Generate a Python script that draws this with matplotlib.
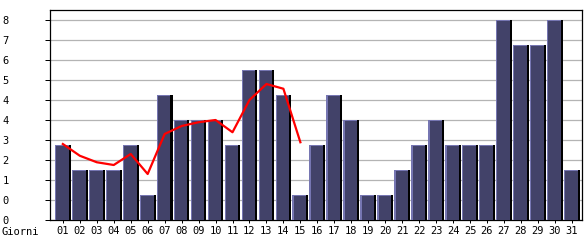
import numpy as np
import matplotlib
matplotlib.use('Agg')
import matplotlib.pyplot as plt

# dati
giorni = ['%02d' % d for d in range(1, 32)]
valori = [3, 2, 2, 2, 3, 1, 5, 4, 4, 4, 3, 6, 6, 5, 1,
          3, 5, 4, 1, 1, 2, 3, 4, 3, 3, 3, 8, 7, 7, 8, 2]
media = [3.04, 2.57, 2.31, 2.2, 2.64, 1.84, 3.44, 3.76, 3.91, 4.0,
         3.51, 4.8, 5.44, 5.25, 3.11]
yticks = [0, 0.8, 1.6, 2.4, 3.2, 4.0, 4.8, 5.6, 6.4, 7.2, 8.0]
ylabels = [str(int(v + 1e-9)) for v in yticks]

plt.rcParams['font.family'] = ['DejaVu Sans Mono']

fig = plt.figure(figsize=(5.85, 2.4), dpi=100)
ax = fig.add_axes([50/585, 20/240, 532/585, 210/240])

x = np.arange(len(valori))
v = np.array(valori, dtype=float)
ax.bar(x + 0.06, v, width=0.81, color='black', linewidth=0, zorder=2)
ax.bar(x - 0.06, v, width=0.81, color='#7676b2', linewidth=0, zorder=3)
ax.bar(x - 0.02, v - 0.04, width=0.73, color='#424269', linewidth=0, zorder=4)

ax.plot(np.arange(len(media)), media, color='#ff0000', lw=1.6, zorder=5)

ax.set_xlim(-0.757, 30.6)
ax.set_ylim(0, 8.4)
ax.set_yticks(yticks)
ax.set_yticklabels(ylabels, ha='left')
ax.set_xticks(x)
ax.set_xticklabels(giorni)
ax.tick_params(axis='y', length=3.6, width=0.72, pad=30.5, labelsize=7.5)
ax.tick_params(axis='x', length=2.5, width=0.72, pad=2, labelsize=7.5)
ax.grid(axis='y', color='#b4b4b4', lw=0.9, zorder=0)
ax.set_axisbelow(True)
for s in ax.spines.values():
    s.set_linewidth(0.9)
    s.set_color('black')

fig.text(2/585, 1 - 232/240, 'Giorni', fontsize=7.5, va='center', ha='left')

fig.savefig('out.png', dpi=100)
